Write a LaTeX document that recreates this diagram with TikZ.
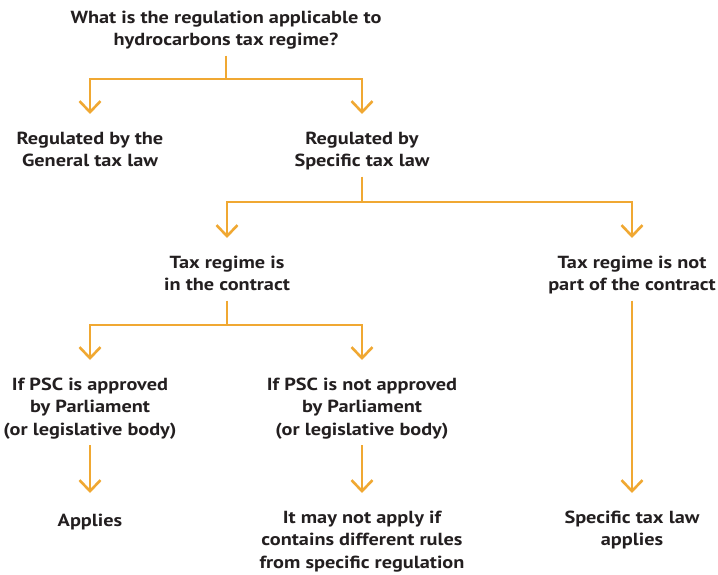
\documentclass[tikz,border=0pt]{standalone}
\usepackage{fontspec}
\setmainfont{PT Sans}[FakeStretch=1.16]
\usetikzlibrary{arrows.meta}
\definecolor{flow}{RGB}{240,168,50}
\definecolor{ink}{RGB}{35,31,32}
\begin{document}
\begin{tikzpicture}[x=1pt,y=-1pt,
  label/.style={anchor=north,inner sep=0pt,align=center,text=ink,
    font=\fontsize{17.5}{22.5}\selectfont\bfseries,
    execute at begin node=\strut,execute at end node=\strut},
  wire/.style={draw=flow,line width=2.6pt},
  stem/.style={wire,shorten <=2.75pt},
  branch/.style={wire,-{Straight Barb[length=11pt,width=21pt,line width=2.6pt]},shorten >=17.75pt},
  link/.style={stem,branch}]
\useasboundingbox (0,0) rectangle (718,575);
% text nodes: north anchor sits 15.75pt above the first baseline
\node[label] (title)   at (226,10.75)  {What is the regulation applicable to\\hydrocarbons tax regime?};
\node[label] (gen)     at (90,131.75)  {Regulated by the\\General tax law};
\node[label] (spec)    at (362,131.75) {Regulated by\\Specific tax law};
\node[label] (inc)     at (227,255.75) {Tax regime is\\in the contract};
\node[label] (notpart) at (632,255.75) {Tax regime is not\\part of the contract};
\node[label] (appr)    at (90,377.75)  {If PSC is approved\\by Parliament\\(or legislative body)};
\node[label] (nappr)   at (362,377.75) {If PSC is not approved\\by Parliament\\(or legislative body)};
\node[label] (applies) at (90,510.75)  {Applies};
\node[label] (maynot)  at (362,510.75) {It may not apply if\\contains different rules\\from specific regulation};
\node[label] (sapp)    at (632,510.75) {Specific tax law\\applies};
% junctions of the branching connectors
\coordinate (j1) at (226,79);
\coordinate (j2) at (362,202);
\coordinate (j3) at (227,325);
% connectors
\draw[link] (title.south) -- (j1) -| (gen.north);
\draw[branch] (j1) -| (spec.north);
\draw[link] (spec.south) -- (j2) -| (inc.north);
\draw[branch] (j2) -| (notpart.north);
\draw[link] (inc.south) -- (j3) -| (appr.north);
\draw[branch] (j3) -| (nappr.north);
\draw[link] (appr.south) -- (applies.north);
\draw[link] (nappr.south) -- (maynot.north);
\draw[link] (notpart.south) -- (sapp.north);
\end{tikzpicture}
\end{document}
